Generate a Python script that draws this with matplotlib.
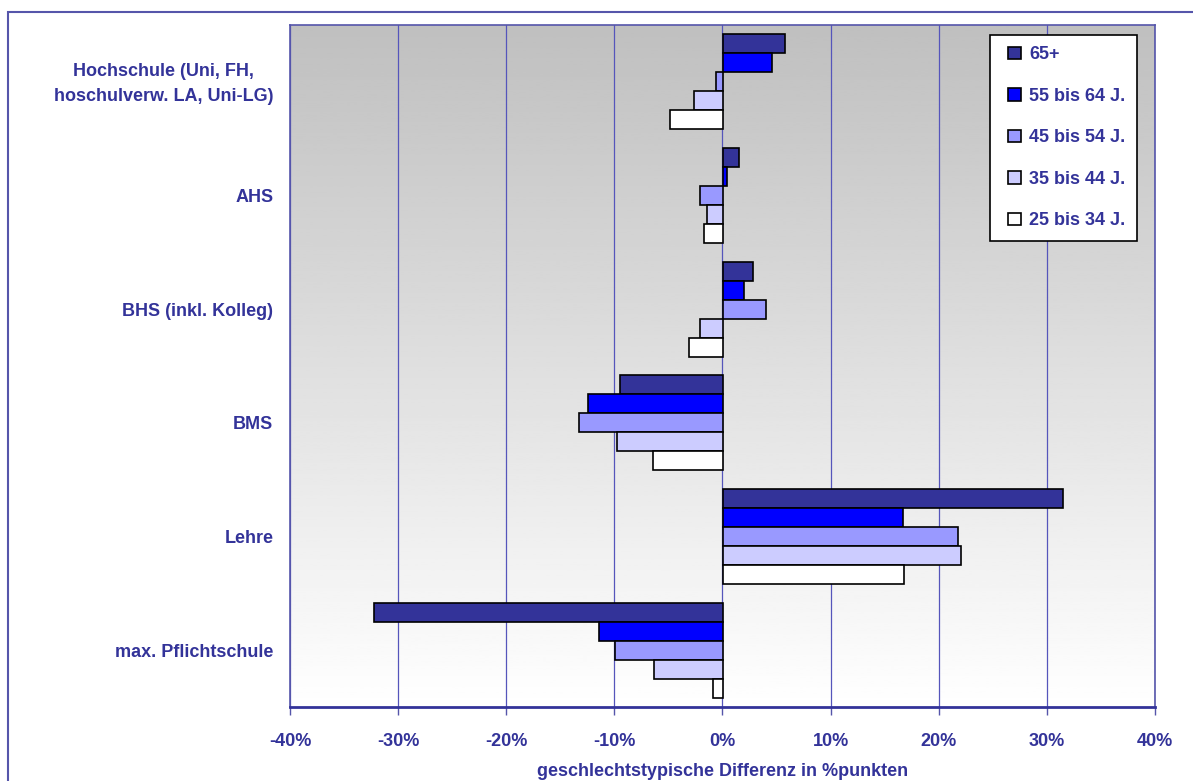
import numpy as np
import matplotlib.pyplot as plt
from matplotlib.patches import Rectangle
from matplotlib.transforms import ScaledTranslation
from matplotlib.legend_handler import HandlerPatch

# Bildungsabschluss, von oben nach unten
kategorien = ["Hochschule (Uni, FH,\nhoschulverw. LA, Uni-LG)", "AHS", "BHS (inkl. Kolleg)",
              "BMS", "Lehre", "max. Pflichtschule"]

altersgruppen = ["65+", "55 bis 64 J.", "45 bis 54 J.", "35 bis 44 J.", "25 bis 34 J."]
farben = ["#333399", "#0000ff", "#9999ff", "#ccccff", "#ffffff"]

# geschlechtstypische Differenz in %punkten je Altersgruppe
w_65 = [5.8, 1.5, 2.8, -9.5, 31.5, -32.2]
w_55_64 = [4.6, 0.45, 2.0, -12.4, 16.7, -11.4]
w_45_54 = [-0.6, -2.1, 4.0, -13.3, 21.8, -9.9]
w_35_44 = [-2.6, -1.4, -2.1, -9.8, 22.1, -6.3]
w_25_34 = [-4.9, -1.7, -3.1, -6.4, 16.8, -0.9]

reihen = [w_65, w_55_64, w_45_54, w_35_44, w_25_34]

blau = "#333399"
fs = 13
plt.rcParams["font.family"] = ["Liberation Sans", "DejaVu Sans"]
plt.rcParams["font.weight"] = "bold"


def quadrat(legend, orig_handle, xdescent, ydescent, width, height, fontsize):
    # kleines Quadrat rechtsbuendig im Handle-Feld
    return Rectangle((-xdescent + width - height, -ydescent), height, height)


fig = plt.figure(figsize=(11.93, 7.81), dpi=100)
# Rahmen um das Diagramm
fig.patches.append(Rectangle((8 / 1193, -0.1), 1.2, 1 - 12 / 781 + 0.1, transform=fig.transFigure,
                             fill=False, edgecolor="#5555aa", linewidth=1.5))

ax = fig.add_axes([290 / 1193, 1 - 707 / 781, 865 / 1193, 682 / 781])

# Hintergrund: Verlauf grau -> weiss
verlauf = np.linspace(0.75, 1.0, 256).reshape(-1, 1)
ax.imshow(verlauf, cmap="gray", vmin=0, vmax=1, aspect="auto",
          extent=[0, 1, 0, 1], transform=ax.transAxes, zorder=0)

n = len(kategorien)
y = np.arange(n)
h = 1 / 6
for i, (werte, farbe, name) in enumerate(zip(reihen, farben, altersgruppen)):
    ax.barh(y + (i - 2) * h, np.array(werte) / 100, height=h, color=farbe,
            edgecolor="black", linewidth=1.2, label=name, zorder=3)

ax.set_xlim(-0.4, 0.4)
ax.set_ylim(n - 0.5, -0.5)
ax.set_xticks(np.arange(-0.4, 0.41, 0.1))
ax.set_xticklabels([f"{v}%" for v in range(-40, 41, 10)], color=blau,
                   fontsize=fs, fontweight="bold")
ax.set_yticks(y)
ax.set_yticklabels(kategorien, color=blau, fontsize=fs, fontweight="bold",
                   multialignment="center", linespacing=1.6)
ax.tick_params(axis="y", length=0, pad=12)
ax.tick_params(axis="x", length=6, width=1, color="#5555aa", pad=13)

# zweizeiliges Label etwas nach oben
lbl = ax.get_yticklabels()[0]
lbl.set_transform(lbl.get_transform() + ScaledTranslation(0, 3.5 / 100, fig.dpi_scale_trans))

ax.grid(axis="x", color="#5555bb", linewidth=0.9, zorder=1)
ax.set_axisbelow(True)
for s in ["top", "right", "left"]:
    ax.spines[s].set_color("#5555aa")
    ax.spines[s].set_linewidth(1.2)
ax.spines["bottom"].set_color("#333399")
ax.spines["bottom"].set_linewidth(2)

ax.set_xlabel("geschlechtstypische Differenz in %punkten", color=blau,
              fontsize=fs, fontweight="bold", labelpad=9)

griffe = [Rectangle((0, 0), 1, 1, facecolor=f, edgecolor="black", linewidth=1.2) for f in farben]
leg = ax.legend(griffe, altersgruppen, loc="upper left",
                bbox_to_anchor=((990 - 290) / 865, 1 - (35 - 25) / 682),
                frameon=True, fancybox=False, edgecolor="black", framealpha=1,
                handlelength=1.1, handleheight=0.7, handletextpad=0.45,
                labelspacing=1.36, borderpad=0.62, borderaxespad=0,
                handler_map={Rectangle: HandlerPatch(patch_func=quadrat)},
                prop={"size": fs, "weight": "bold"})
leg.get_frame().set_linewidth(1.2)
for t in leg.get_texts():
    t.set_color(blau)
leg.set_zorder(5)

fig.savefig("out.png", dpi=100)
